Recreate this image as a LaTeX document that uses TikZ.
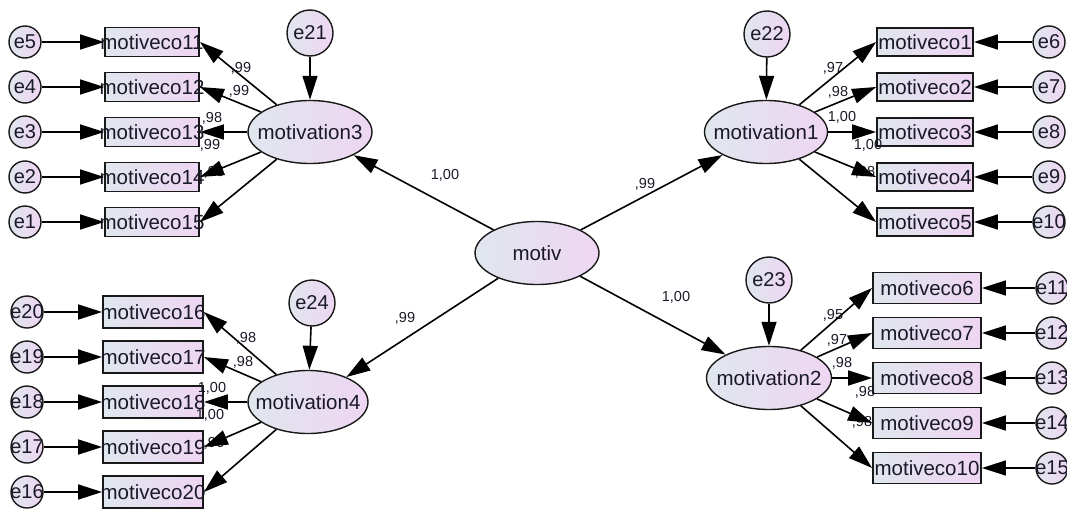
\documentclass[tikz,border=0pt]{standalone}
\usepackage{fontspec}
\setmainfont{Liberation Sans}
\usetikzlibrary{shapes.geometric,arrows.meta}
\definecolor{shadeL}{RGB}{224,230,238}
\definecolor{shadeR}{RGB}{238,214,242}
\definecolor{ink}{RGB}{25,25,40}
\newcommand\latfont{\fontsize{20.5}{22}\selectfont}
\newcommand\errfont{\fontsize{20}{22}\selectfont}
\newcommand\coeffont{\fontsize{14.5}{16}\selectfont}
\tikzset{
  shaded/.style={left color=shadeL, right color=shadeR, draw=black!90},
  txt/.style={font=\latfont, text=ink, inner sep=0pt},
  etxt/.style={font=\errfont, text=ink, inner sep=0pt},
  lat/.style={ellipse, shaded, line width=1.4pt, inner sep=0pt,
    minimum width=124pt, minimum height=63pt, label={[txt]center:#1}},
  err/.style={circle, shaded, line width=1.4pt, inner sep=0pt,
    minimum size=32pt, label={[etxt]center:#1}},
  lerr/.style={err=#1, minimum size=46pt},
  obs/.style={rectangle, shaded, line width=1.8pt, inner sep=0pt,
    label={[txt]center:#1}},
  obsL/.style={obs=#1, minimum width=94pt, minimum height=29pt},
  obsLL/.style={obs=#1, minimum width=100pt, minimum height=32pt},
  obsR/.style={obs=#1, minimum width=96pt, minimum height=28pt},
  obsRR/.style={obs=#1, minimum width=108pt, minimum height=31pt},
  coef/.style={font=\coeffont, text=ink, inner sep=0pt},
  reg/.style={line width=1.6pt, draw=black,
    -{Triangle[length=24pt,width=15pt]}}
}
\begin{document}
\begin{tikzpicture}[x=1pt, y=-1pt]
\useasboundingbox (0,0) rectangle (1067,511);

% second-order factor and first-order factors
\node[lat=motiv] (motiv) at (537,253) {};
\node[lat=motivation3] (m3) at (310,132) {};
\node[lat=motivation4, minimum width=120pt] (m4) at (308,402) {};
\node[lat=motivation1, minimum width=123pt] (m1) at (766,132) {};
\node[lat=motivation2, minimum width=125pt] (m2) at (769,378) {};

% disturbances of the first-order factors
\node[lerr=e21] (e21) at (310,33) {};
\node[lerr=e24] (e24) at (312,303) {};
\node[lerr=e22] (e22) at (767,34) {};
\node[lerr=e23] (e23) at (769,280) {};

% indicators of motivation3 (upper left)
\foreach \n/\e/\y in {11/5/42, 12/4/87, 13/3/132, 14/2/177, 15/1/222} {
  \node[obsL=motiveco\n] (v\n) at (152,\y) {};
  \node[err=e\e] (e\e) at (25,\y) {};
}
% indicators of motivation4 (lower left)
\foreach \n/\e/\y in {16/20/312, 17/19/357, 18/18/402, 19/17/447, 20/16/492} {
  \node[obsLL=motiveco\n] (v\n) at (153,\y) {};
  \node[err=e\e] (e\e) at (27,\y) {};
}
% indicators of motivation1 (upper right)
\foreach \n/\e/\y in {1/6/42, 2/7/87, 3/8/132, 4/9/177, 5/10/222} {
  \node[obsR=motiveco\n] (v\n) at (925,\y) {};
  \node[err=e\e] (e\e) at (1049,\y) {};
}
% indicators of motivation2 (lower right)
\foreach \n/\e/\y in {6/11/288, 7/12/333, 8/13/378, 9/14/423, 10/15/468} {
  \node[obsRR=motiveco\n] (v\n) at (927,\y) {};
  \node[err=e\e] (e\e) at (1052,\y) {};
}

% standardized loadings
\node[coef] (c31) at (241,68) {,99};
\node[coef] (c32) at (239,91) {,99};
\node[coef] (c33) at (212,118) {,98};
\node[coef] (c34) at (210,145) {,99};
\node[coef] (c35) at (214,172) {,96};
\node[coef] (c41) at (246,338) {,98};
\node[coef] (c42) at (243,362) {,98};
\node[coef] (c43) at (212,388) {1,00};
\node[coef] (c44) at (210,415) {1,00};
\node[coef] (c45) at (214,443) {,96};
\node[coef] (c11) at (833,68) {,97};
\node[coef] (c12) at (838,92) {,98};
\node[coef] (c13) at (842,117) {1,00};
\node[coef] (c14) at (868,145) {1,00};
\node[coef] (c15) at (865,172) {,98};
\node[coef] (c21) at (833,315) {,95};
\node[coef] (c22) at (837,340) {,97};
\node[coef] (c23) at (842,363) {,98};
\node[coef] (c24) at (865,392) {,98};
\node[coef] (c25) at (862,422) {,98};
\node[coef] (g3) at (445,175) {1,00};
\node[coef] (g1) at (645,184) {,99};
\node[coef] (g4) at (405,318) {,99};
\node[coef] (g2) at (676,297) {1,00};

% structural paths
\draw[reg] (motiv) -- (m3);
\draw[reg] (motiv) -- (m1);
\draw[reg] (motiv) -- (m4);
\draw[reg] (motiv) -- (m2);
\draw[reg] (e21) -- (m3);
\draw[reg] (e24) -- (m4);
\draw[reg] (e22) -- (m1);
\draw[reg] (e23) -- (m2);

% measurement paths and error terms
\foreach \n/\e in {11/5, 12/4, 13/3, 14/2, 15/1} {
  \draw[reg] (m3) -- (v\n.east);
  \draw[reg] (e\e) -- (v\n.west);
}
\foreach \n/\e in {16/20, 17/19, 18/18, 19/17, 20/16} {
  \draw[reg] (m4) -- (v\n.east);
  \draw[reg] (e\e) -- (v\n.west);
}
\foreach \n/\e in {1/6, 2/7, 3/8, 4/9, 5/10} {
  \draw[reg] (m1) -- (v\n.west);
  \draw[reg] (e\e) -- (v\n.east);
}
\foreach \n/\e in {6/11, 7/12, 8/13, 9/14, 10/15} {
  \draw[reg] (m2) -- (v\n.west);
  \draw[reg] (e\e) -- (v\n.east);
}
\end{tikzpicture}
\end{document}
